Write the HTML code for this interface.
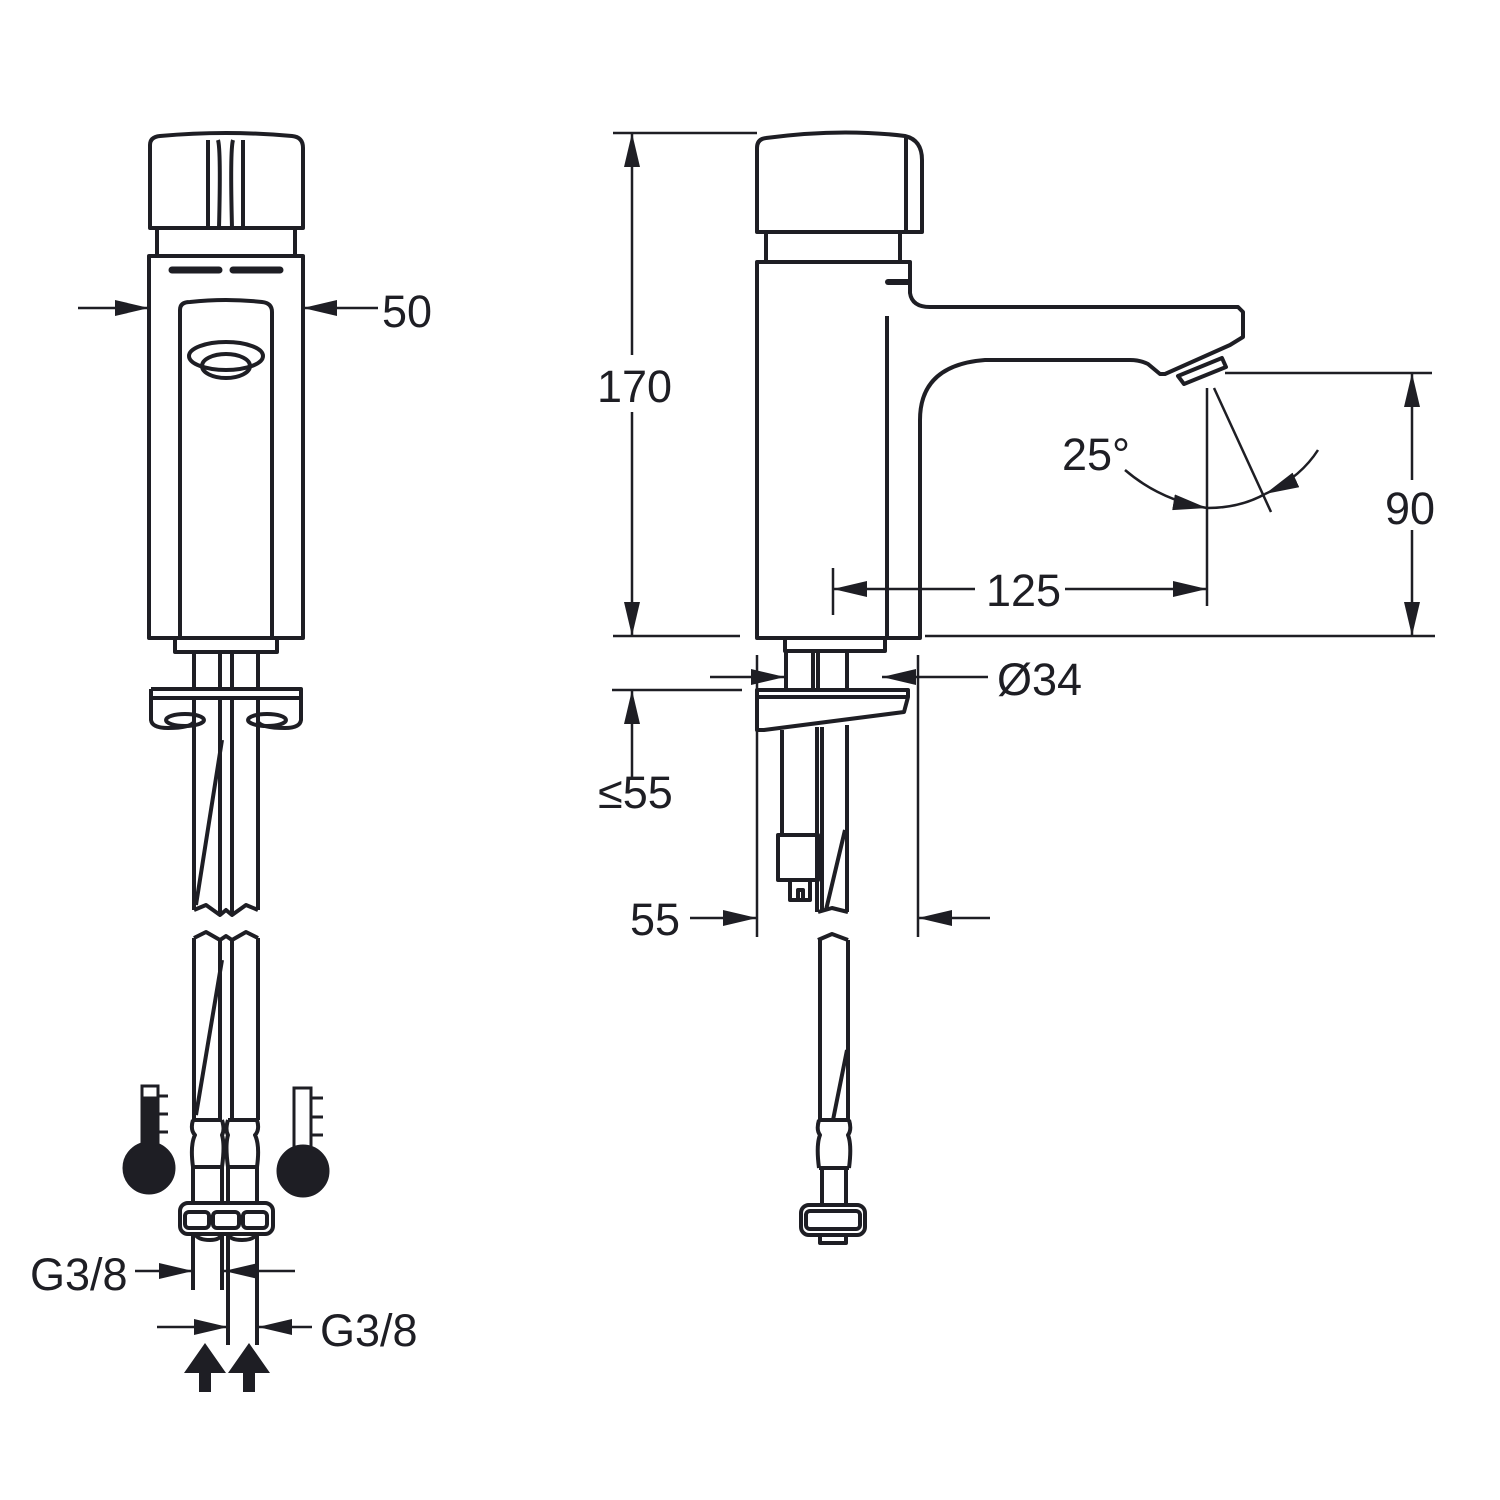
<!DOCTYPE html>
<html><head><meta charset="utf-8"><style>
html,body{margin:0;padding:0;background:#fff;}
svg{display:block;}
text{font-family:"Liberation Sans",sans-serif;fill:#1e1e24;font-size:45px;}
</style></head><body>
<svg width="1500" height="1500" viewBox="0 0 1500 1500" xmlns="http://www.w3.org/2000/svg">
<defs>
<marker id="a" viewBox="0 0 34 16" refX="34" refY="8" markerWidth="34" markerHeight="16" markerUnits="userSpaceOnUse" orient="auto"><path d="M0,0 L34,8 L0,16 z" fill="#1e1e24"/></marker>
</defs>
<g fill="none" stroke="#1e1e24" stroke-width="4" stroke-linejoin="round">
<!-- LEFT VIEW -->
<path d="M150,228 L150,145 Q150,137 160,136 Q226,130 292,136 Q303,137 303,148 L303,228 Z"/>
<path d="M208,140 L208,228 M218,140 Q221,150 219,228 M233,140 Q230,150 232,228 M243,140 L243,228"/>
<rect x="157" y="228" width="138" height="28"/>
<rect x="149" y="256" width="154" height="382"/>
<path d="M172,270 L219,270 M233,270 L280,270" stroke-width="7" stroke-linecap="round"/>
<path d="M180,638 L180,310 Q180,302 190,302 Q226,298 262,302 Q272,303 272,312 L272,638"/>
<ellipse cx="226" cy="356" rx="37" ry="14"/>
<ellipse cx="226" cy="366" rx="24" ry="12"/>
<rect x="175" y="638" width="102" height="14"/>
<path d="M194,652 L194,689 M220,652 L220,689 M232,652 L232,689 M258,652 L258,689"/>
<path d="M151,689 L301,689 L301,720 Q300,728 285,728 Q262,728 258,722 L258,698 M151,689 L151,720 Q152,728 168,728 Q190,728 194,722 L194,698 M151,698 L301,698"/>
<ellipse cx="185" cy="720" rx="19" ry="6"/>
<ellipse cx="267" cy="720" rx="19" ry="6"/>
<path d="M194,698 L194,910 M258,698 L258,910 M220,698 L220,915 M232,698 L232,915 M222,740 L196,905"/>
<path d="M194,910 L206,905 L220,915 L226,910 L232,915 L246,905 L258,910"/>
<path d="M194,938 L206,932 L220,940 L226,936 L232,940 L246,932 L258,938"/>
<path d="M194,938 L194,1120 M258,938 L258,1120 M220,940 L220,1120 M232,940 L232,1120 M222,960 L196,1115"/>
<path d="M193,1120 L222,1120 M228,1120 L257,1120 M193,1167 L222,1167 M228,1167 L257,1167"/>
<path d="M193,1120 Q190,1130 195,1135 Q190,1145 193,1167 M222,1120 Q225,1130 222,1135 Q225,1145 222,1167 M228,1120 Q225,1130 228,1135 Q225,1145 228,1167 M257,1120 Q260,1130 255,1135 Q260,1145 257,1167"/>
<path d="M193,1167 L193,1203 M222,1167 L222,1203 M228,1167 L228,1203 M257,1167 L257,1203"/>
<rect x="180" y="1203" width="93" height="31" rx="8"/>
<rect x="185" y="1212" width="24" height="16" rx="4"/>
<rect x="213" y="1212" width="26" height="16" rx="4"/>
<rect x="243" y="1212" width="24" height="16" rx="4"/>
<path d="M195,1234 Q198,1240 210,1240 Q220,1240 222,1234 M228,1234 Q230,1240 242,1240 Q254,1240 256,1234"/>
<path d="M193,1234 L193,1290 M222,1234 L222,1290 M228,1234 L228,1345 M257,1234 L257,1345"/>
<!-- left dims -->
<g stroke-width="2.5">
<path d="M78,308 L149,308" marker-end="url(#a)"/>
<path d="M378,308 L303,308" marker-end="url(#a)"/>
<path d="M135,1271 L193,1271" marker-end="url(#a)"/>
<path d="M295,1271 L224,1271" marker-end="url(#a)"/>
<path d="M157,1327 L228,1327" marker-end="url(#a)"/>
<path d="M312,1327 L258,1327" marker-end="url(#a)"/>
</g>
<!-- RIGHT VIEW -->
<path d="M757,232 L757,148 Q757,139 766,138 Q840,128 905,136 Q922,140 922,160 L922,232 Z"/>
<path d="M906,137 L906,232"/>
<path d="M766,232 L766,262 M900,232 L900,262"/>
<path d="M757,638 L757,262 L910,262 L910,293 Q912,307 930,307 L1238,307 L1243,312 L1243,337 L1230,345 L1165,374 L1160,374 L1148,364 Q1140,360 1130,360 L985,360 Q920,365 920,420 L920,638 Z"/>
<path d="M1178,376 L1222,358 L1226,367 L1184,384 Z"/>
<path d="M888,282 L908,282" stroke-width="6" stroke-linecap="round"/>
<path d="M887,316 L887,638"/>
<rect x="785" y="638" width="100" height="13"/>
<path d="M786,651 L786,690 M813,651 L813,690 M818,651 L818,690 M847,651 L847,690"/>
<path d="M757,690 L908,690 L908,697 L904,712 L764,730 L757,730 Z M757,697 L908,697"/>
<path d="M782,730 L782,835 M817,727 L817,912 M822,727 L822,912 M847,725 L847,912 M845,830 L826,910"/>
<rect x="778" y="835" width="40" height="45"/>
<path d="M790,880 L790,900 L810,900 L810,880 M798,900 L798,890 L803,890 L803,900"/>
<path d="M818,912 L832,908 L848,912 M818,940 L832,934 L848,940"/>
<path d="M820,940 L820,1120 M848,940 L848,1120 M847,1050 L833,1120"/>
<path d="M819,1120 L849,1120 M819,1168 L849,1168 M819,1120 Q816,1130 820,1135 Q816,1145 819,1168 M849,1120 Q852,1130 848,1135 Q852,1145 849,1168 M822,1168 L822,1205 M846,1168 L846,1205"/>
<rect x="801" y="1205" width="64" height="30" rx="8"/>
<rect x="806" y="1211" width="54" height="18" rx="4"/>
<path d="M820,1235 L820,1243 L846,1243 L846,1235"/>
<!-- right dims -->
<g stroke-width="2.5">
<path d="M613,133 L757,133 M613,636 L740,636 M925,636 L1435,636 M1225,373 L1432,373"/>
<path d="M632,355 L632,133" marker-end="url(#a)"/>
<path d="M632,412 L632,636" marker-end="url(#a)"/>
<path d="M1412,480 L1412,373" marker-end="url(#a)"/>
<path d="M1412,530 L1412,636" marker-end="url(#a)"/>
<path d="M833,568 L833,615 M1207,388 L1207,606"/>
<path d="M975,589 L833,589" marker-end="url(#a)"/>
<path d="M1065,589 L1207,589" marker-end="url(#a)"/>
<path d="M1214,388 L1271,512"/>
<path d="M1125,470 Q1160,500 1207,508" marker-end="url(#a)"/>
<path d="M1318,450 Q1300,478 1265,494" marker-end="url(#a)"/>
<path d="M1207,508 Q1240,508 1265,494"/>
<path d="M612,690 L742,690"/>
<path d="M632,780 L632,690" marker-end="url(#a)"/>
<path d="M757,655 L757,937 M918,655 L918,937"/>
<path d="M710,677 L785,677" marker-end="url(#a)"/>
<path d="M988,677 L882,677" marker-end="url(#a)"/>
<path d="M690,918 L757,918" marker-end="url(#a)"/>
<path d="M990,918 L918,918" marker-end="url(#a)"/>
</g>
</g>
<!-- thermometers -->
<g fill="#1e1e24" stroke="#1e1e24" stroke-width="3">
<rect x="142" y="1086" width="16" height="70" fill="#fff"/>
<rect x="142" y="1098" width="16" height="60"/>
<circle cx="149" cy="1168" r="25"/>
<path d="M158,1096 L168,1096 M158,1114 L168,1114 M158,1132 L168,1132" fill="none"/>
<rect x="294" y="1088" width="17" height="70" fill="#fff"/>
<circle cx="303" cy="1171" r="25"/>
<path d="M311,1098 L323,1098 M311,1117 L323,1117 M311,1135 L323,1135" fill="none"/>
</g>
<g fill="#1e1e24">
<path d="M184,1373 L205,1343 L226,1373 L211,1373 L211,1392 L199,1392 L199,1373 Z"/>
<path d="M228,1373 L249,1343 L270,1373 L255,1373 L255,1392 L243,1392 L243,1373 Z"/>
</g>
<text x="382" y="327">50</text>
<text x="30" y="1290">G3/8</text>
<text x="320" y="1346">G3/8</text>
<text x="597" y="402">170</text>
<text x="1385" y="524">90</text>
<text x="986" y="606">125</text>
<text x="1062" y="470">25°</text>
<text x="997" y="695">Ø34</text>
<text x="598" y="808">≤55</text>
<text x="630" y="935">55</text>
</svg>
</body></html>
